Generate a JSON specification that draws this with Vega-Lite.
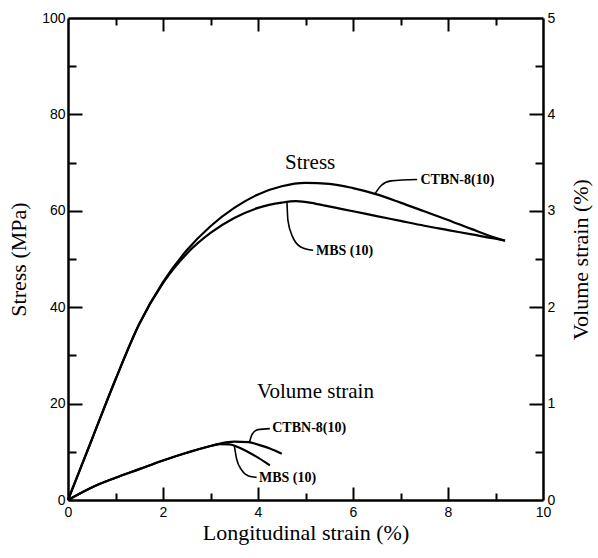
{
  "$schema": "https://vega.github.io/schema/vega-lite/v6.json",
  "width": 475,
  "height": 482,
  "autosize": {"type": "none"},
  "padding": {"left": 68, "top": 18, "right": 55, "bottom": 58},
  "background": "white",
  "config": {
    "view": {"stroke": null},
    "axis": {
      "grid": false,
      "domainColor": "black",
      "domainWidth": 2.5,
      "tickColor": "black",
      "tickWidth": 2,
      "labelFont": "Liberation Sans",
      "labelFontSize": 14,
      "labelColor": "black",
      "labelFlush": false,
      "labelOverlap": false,
      "titleFont": "Liberation Serif",
      "titleFontSize": 22,
      "titleFontWeight": "normal",
      "titleColor": "black"
    }
  },
  "datasets": {
    "stress": [
      {"series": "CTBN-8(10)", "strain": 0, "stress": 0},
      {"series": "CTBN-8(10)", "strain": 0.5, "stress": 12.5},
      {"series": "CTBN-8(10)", "strain": 1, "stress": 25},
      {"series": "CTBN-8(10)", "strain": 1.5, "stress": 36.5},
      {"series": "CTBN-8(10)", "strain": 2, "stress": 45.2},
      {"series": "CTBN-8(10)", "strain": 2.5, "stress": 51.8},
      {"series": "CTBN-8(10)", "strain": 3, "stress": 56.8},
      {"series": "CTBN-8(10)", "strain": 3.5, "stress": 60.6},
      {"series": "CTBN-8(10)", "strain": 4, "stress": 63.4},
      {"series": "CTBN-8(10)", "strain": 4.5, "stress": 65.1},
      {"series": "CTBN-8(10)", "strain": 5, "stress": 65.8},
      {"series": "CTBN-8(10)", "strain": 5.5, "stress": 65.6},
      {"series": "CTBN-8(10)", "strain": 6, "stress": 64.7},
      {"series": "CTBN-8(10)", "strain": 6.5, "stress": 63.4},
      {"series": "CTBN-8(10)", "strain": 7, "stress": 61.7},
      {"series": "CTBN-8(10)", "strain": 7.5, "stress": 59.9},
      {"series": "CTBN-8(10)", "strain": 8, "stress": 58.1},
      {"series": "CTBN-8(10)", "strain": 8.5, "stress": 56.2},
      {"series": "CTBN-8(10)", "strain": 9, "stress": 54.4},
      {"series": "CTBN-8(10)", "strain": 9.2, "stress": 53.8},
      {"series": "MBS (10)", "strain": 0, "stress": 0},
      {"series": "MBS (10)", "strain": 0.5, "stress": 12.5},
      {"series": "MBS (10)", "strain": 1, "stress": 25},
      {"series": "MBS (10)", "strain": 1.5, "stress": 36.5},
      {"series": "MBS (10)", "strain": 2, "stress": 45},
      {"series": "MBS (10)", "strain": 2.5, "stress": 51.1},
      {"series": "MBS (10)", "strain": 3, "stress": 55.4},
      {"series": "MBS (10)", "strain": 3.5, "stress": 58.5},
      {"series": "MBS (10)", "strain": 4, "stress": 60.6},
      {"series": "MBS (10)", "strain": 4.5, "stress": 61.7},
      {"series": "MBS (10)", "strain": 4.8, "stress": 62},
      {"series": "MBS (10)", "strain": 5.2, "stress": 61.5},
      {"series": "MBS (10)", "strain": 5.6, "stress": 60.7},
      {"series": "MBS (10)", "strain": 6, "stress": 59.9},
      {"series": "MBS (10)", "strain": 6.5, "stress": 58.9},
      {"series": "MBS (10)", "strain": 7, "stress": 57.9},
      {"series": "MBS (10)", "strain": 7.5, "stress": 56.9},
      {"series": "MBS (10)", "strain": 8, "stress": 56},
      {"series": "MBS (10)", "strain": 8.5, "stress": 55.1},
      {"series": "MBS (10)", "strain": 9, "stress": 54.2},
      {"series": "MBS (10)", "strain": 9.2, "stress": 53.8}
    ],
    "volume": [
      {"series": "CTBN-8(10)", "strain": 0, "vol": 0},
      {"series": "CTBN-8(10)", "strain": 0.5, "vol": 0.13},
      {"series": "CTBN-8(10)", "strain": 1, "vol": 0.23},
      {"series": "CTBN-8(10)", "strain": 1.5, "vol": 0.32},
      {"series": "CTBN-8(10)", "strain": 2, "vol": 0.41},
      {"series": "CTBN-8(10)", "strain": 2.5, "vol": 0.49},
      {"series": "CTBN-8(10)", "strain": 3, "vol": 0.56},
      {"series": "CTBN-8(10)", "strain": 3.2, "vol": 0.585},
      {"series": "CTBN-8(10)", "strain": 3.5, "vol": 0.605},
      {"series": "CTBN-8(10)", "strain": 3.8, "vol": 0.6},
      {"series": "CTBN-8(10)", "strain": 4.0, "vol": 0.575},
      {"series": "CTBN-8(10)", "strain": 4.25, "vol": 0.535},
      {"series": "CTBN-8(10)", "strain": 4.5, "vol": 0.48},
      {"series": "MBS (10)", "strain": 0, "vol": 0},
      {"series": "MBS (10)", "strain": 0.5, "vol": 0.13},
      {"series": "MBS (10)", "strain": 1, "vol": 0.23},
      {"series": "MBS (10)", "strain": 1.5, "vol": 0.32},
      {"series": "MBS (10)", "strain": 2, "vol": 0.41},
      {"series": "MBS (10)", "strain": 2.5, "vol": 0.49},
      {"series": "MBS (10)", "strain": 3, "vol": 0.56},
      {"series": "MBS (10)", "strain": 3.2, "vol": 0.58},
      {"series": "MBS (10)", "strain": 3.4, "vol": 0.578},
      {"series": "MBS (10)", "strain": 3.6, "vol": 0.545},
      {"series": "MBS (10)", "strain": 3.8, "vol": 0.495},
      {"series": "MBS (10)", "strain": 4.0, "vol": 0.44},
      {"series": "MBS (10)", "strain": 4.25, "vol": 0.36}
    ],
    "stressLeaders": [
      {"id": "a", "strain": 6.46, "stress": 63.5},
      {"id": "a", "strain": 6.6, "stress": 65.3},
      {"id": "a", "strain": 6.8, "stress": 66.2},
      {"id": "a", "strain": 7.35, "stress": 66.5},
      {"id": "b", "strain": 4.61, "stress": 61.8},
      {"id": "b", "strain": 4.63, "stress": 58},
      {"id": "b", "strain": 4.72, "stress": 54.8},
      {"id": "b", "strain": 4.9, "stress": 52.5},
      {"id": "b", "strain": 5.16, "stress": 51.8}
    ],
    "volumeLeaders": [
      {"id": "c", "strain": 3.82, "stress": 12.0},
      {"id": "c", "strain": 3.88, "stress": 13.7},
      {"id": "c", "strain": 4.0, "stress": 14.6},
      {"id": "c", "strain": 4.25, "stress": 14.8},
      {"id": "d", "strain": 3.5, "stress": 11.4},
      {"id": "d", "strain": 3.55, "stress": 8.5},
      {"id": "d", "strain": 3.65, "stress": 6.3},
      {"id": "d", "strain": 3.8, "stress": 5.0},
      {"id": "d", "strain": 3.97, "stress": 4.7}
    ],
    "curveLabels": [
      {"strain": 7.42, "stress": 66.4, "text": "CTBN-8(10)"},
      {"strain": 5.22, "stress": 51.6, "text": "MBS (10)"},
      {"strain": 4.3, "stress": 14.9, "text": "CTBN-8(10)"},
      {"strain": 4.02, "stress": 4.6, "text": "MBS (10)"}
    ],
    "groupLabels": [
      {"strain": 4.57, "stress": 70, "text": "Stress"},
      {"strain": 3.98, "stress": 22.4, "text": "Volume strain"}
    ]
  },
  "layer": [
    {
      "data": {"name": "stress"},
      "mark": {"type": "line", "color": "black", "strokeWidth": 2.2, "interpolate": "monotone"},
      "encoding": {
        "x": {
          "field": "strain", "type": "quantitative",
          "scale": {"domain": [0, 10]},
          "axis": {
            "orient": "bottom",
            "title": "Longitudinal strain (%)",
            "values": [0, 2, 4, 6, 8, 10],
            "ticks": false,
            "labelPadding": 5,
            "titleY": 39,
            "titleBaseline": "alphabetic"
          }
        },
        "y": {
          "field": "stress", "type": "quantitative",
          "scale": {"domain": [0, 100]},
          "axis": {
            "orient": "left",
            "title": "Stress (MPa)",
            "values": [0, 20, 40, 60, 80, 100],
            "ticks": false,
            "labelPadding": 3,
            "titleX": -50,
            "titleBaseline": "middle"
          }
        },
        "detail": {"field": "series"}
      }
    },
    {
      "data": {"name": "volume"},
      "mark": {"type": "line", "color": "black", "strokeWidth": 2.2, "interpolate": "monotone"},
      "encoding": {
        "x": {
          "field": "strain", "type": "quantitative",
          "scale": {"domain": [0, 10]},
          "axis": {
            "orient": "top",
            "title": null,
            "labels": false,
            "ticks": false,
            "values": [0, 2, 4, 6, 8, 10]
          }
        },
        "y": {
          "field": "vol", "type": "quantitative",
          "scale": {"domain": [0, 5]},
          "axis": {
            "orient": "right",
            "title": "Volume strain (%)",
            "values": [0, 1, 2, 3, 4, 5],
            "format": "d",
            "ticks": false,
            "labelPadding": 4,
            "titleAngle": 270,
            "titleX": 37,
            "titleBaseline": "middle"
          }
        },
        "detail": {"field": "series"}
      }
    },
    {
      "data": {"name": "stressLeaders"},
      "mark": {"type": "line", "color": "black", "strokeWidth": 1.6, "interpolate": "monotone"},
      "encoding": {
        "x": {
          "field": "strain", "type": "quantitative", "scale": {"domain": [0, 10]},
          "axis": {"orient": "bottom", "title": null, "labels": false, "domain": false, "ticks": true, "values": [2, 4, 6, 8], "tickSize": 13, "offset": -13}
        },
        "y": {
          "field": "stress", "type": "quantitative", "scale": {"domain": [0, 100]},
          "axis": {"orient": "left", "title": null, "labels": false, "domain": false, "ticks": true, "values": [20, 40, 60, 80], "tickSize": 14, "offset": -14}
        },
        "detail": {"field": "id"}
      }
    },
    {
      "data": {"name": "volumeLeaders"},
      "mark": {"type": "line", "color": "black", "strokeWidth": 1.6, "interpolate": "monotone"},
      "encoding": {
        "x": {
          "field": "strain", "type": "quantitative", "scale": {"domain": [0, 10]},
          "axis": {"orient": "top", "title": null, "labels": false, "domain": false, "ticks": true, "values": [2, 4, 6, 8], "tickSize": 13, "offset": -13}
        },
        "y": {
          "field": "stress", "type": "quantitative", "scale": {"domain": [0, 100]},
          "axis": {"orient": "right", "title": null, "labels": false, "domain": false, "ticks": true, "values": [20, 40, 60, 80], "tickSize": 14, "offset": -14}
        },
        "detail": {"field": "id"}
      }
    },
    {
      "data": {"name": "curveLabels"},
      "mark": {"type": "text", "font": "Liberation Serif", "fontWeight": "bold", "fontSize": 14, "align": "left", "baseline": "middle", "color": "black"},
      "encoding": {
        "x": {
          "field": "strain", "type": "quantitative", "scale": {"domain": [0, 10]},
          "axis": {"orient": "bottom", "title": null, "labels": false, "domain": false, "ticks": true, "values": [1, 3, 5, 7, 9], "tickSize": 7, "offset": -7}
        },
        "y": {
          "field": "stress", "type": "quantitative", "scale": {"domain": [0, 100]},
          "axis": {"orient": "left", "title": null, "labels": false, "domain": false, "ticks": true, "values": [10, 30, 50, 70, 90], "tickSize": 8, "offset": -8}
        },
        "text": {"field": "text"}
      }
    },
    {
      "data": {"name": "groupLabels"},
      "mark": {"type": "text", "font": "Liberation Serif", "fontSize": 21, "align": "left", "baseline": "middle", "color": "black"},
      "encoding": {
        "x": {
          "field": "strain", "type": "quantitative", "scale": {"domain": [0, 10]},
          "axis": {"orient": "top", "title": null, "labels": false, "domain": false, "ticks": true, "values": [1, 3, 5, 7, 9], "tickSize": 7, "offset": -7}
        },
        "y": {
          "field": "stress", "type": "quantitative", "scale": {"domain": [0, 100]},
          "axis": {"orient": "right", "title": null, "labels": false, "domain": false, "ticks": true, "values": [10, 30, 50, 70, 90], "tickSize": 8, "offset": -8}
        },
        "text": {"field": "text"}
      }
    }
  ],
  "resolve": {"scale": {"y": "independent"}, "axis": {"x": "independent"}}
}
